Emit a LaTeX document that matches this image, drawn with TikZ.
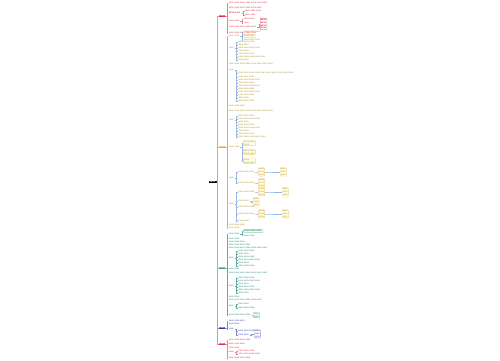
\documentclass[tikz,border=0pt]{standalone}
\usepackage{fontspec}
\setmainfont{Liberation Sans}
\usetikzlibrary{calc}
\definecolor{cred}{RGB}{222,45,70}
\definecolor{corg}{RGB}{236,170,60}
\definecolor{colive}{RGB}{170,145,30}
\definecolor{cblue}{RGB}{120,165,225}
\definecolor{cteal}{RGB}{30,135,120}
\definecolor{cgreen}{RGB}{60,170,110}
\definecolor{cnavy}{RGB}{50,60,170}
\newcommand\tf{\fontsize{2.45}{2.8}\selectfont}
\newcommand\ww{xxxx\ }
\newcommand\kid[5][]{%
  \coordinate (#2x) at ($(#3.east)+(3,0)$);
  \coordinate (#2y) at (0,-#4);
  \node[kid,#1] (#2) at (#2x |- #2y) {#5};
  \draw[con] (#3.east) -- ++(1.5,0) |- (#2.west);}
\newcommand\kidx[6][]{%
  \node[kid,#1] (#2) at (#4,-#5) {#6};
  \draw[con] (#3.east) -- ++(1.5,0) |- (#2.west);}
\tikzset{
  kid/.style={anchor=west, inner sep=0.25pt, font=\tf, align=left},
  kbx/.style={draw, line width=0.2pt, inner sep=0.6pt, rounded corners=0.3pt, fill=white},
  con/.style={line width=0.25pt},
  lone/.style={anchor=west, inner sep=0.5pt, font=\tf\bfseries, text=white, minimum height=2.8pt},
  rootbox/.style={fill=black, text=white, inner sep=0.4pt, font=\tf\bfseries, minimum width=8pt, minimum height=2.6pt},
  spine/.style={line width=0.45pt},
}
\begin{document}
\begin{tikzpicture}[x=1pt,y=1pt]
\useasboundingbox (0,0) rectangle (500,-360);
\fill[white] (0,0) rectangle (500,-360);
% root and first level
\node[rootbox] (R) at (212.5,-182) {\ww};
\node[lone,fill=cred] (A) at (218.5,-16) {\ww};
\node[lone,fill=corg] (B) at (218.5,-147) {\ww};
\node[lone,fill=cgreen] (C) at (218.5,-268) {\ww};
\node[lone,fill=cnavy] (D) at (218.5,-328) {\ww};
\node[lone,fill=cred] (E) at (218.5,-344) {\ww};
\draw[spine,corg!80] (R.east) -- ++(1,0) |- (B.west);
\draw[spine,cred!50] (R.east) -- ++(1,0) |- (A.west);
\draw[spine,cgreen!70] (R.east) -- ++(1,0) |- (C.west);
\draw[spine,cnavy!60] (R.east) -- ++(1,0) |- (D.west);
\draw[spine,cred!55] (R.east) -- ++(1,0) |- (E.west);

% ---------------- branch A (red)
\begin{scope}[kid/.append style={text=cred}, con/.append style={draw=cred!60}, kbx/.append style={draw=cred}]
\kid{a1}{A}{3}{\ww\ww\ww\ww\ww\ww\ww}
\kid{a2}{A}{8}{\ww\ww\ww\ww\ww\ww}
\kid[font=\tf\bfseries]{a3}{A}{13}{\ww\ww}
\kid{a31}{a3}{11}{\ww\ww\ww}
\kid{a32}{a3}{15}{\ww\ww}
\kid{a4}{A}{21}{\ww\ww}
\kid{a41}{a4}{19}{\ww\ww}
\kid{a42}{a4}{23}{\ww}
\kid{a5}{A}{27}{\ww\ww\ww\ww\ww}
\kid[kbx,font=\tf\bfseries]{a51}{a5}{24}{\ww\\\ww\\\ww\\\ww}
\kid{a6}{A}{33}{\ww\ww\ww\ww\ww}
\end{scope}

% ---------------- branch B (orange / olive)
\begin{scope}[kid/.append style={text=colive}, con/.append style={draw=cblue!80}, kbx/.append style={draw=corg,fill=yellow!10}]
\kid{b1}{B}{36}{\ww\ww}
\kid{b11}{b1}{32}{\ww\ww\ww}
\kid[kbx]{b12}{b1}{36}{\ww\ww}
\kid{b13}{b1}{40}{\ww\ww\ww}
\kid{b2}{B}{48}{\ww}
\kid{b21}{b2}{42}{\ww\ww\ww}
\kid{b22}{b2}{45}{\ww\ww}
\kid{b23}{b2}{48}{\ww\ww\ww\ww}
\kid{b24}{b2}{51}{\ww\ww}
\kid{b25}{b2}{54}{\ww\ww\ww}
\kid{b26}{b2}{57}{\ww\ww\ww\ww\ww}
\kid{b27}{b2}{60}{\ww\ww}
\kid{b3}{B}{64}{\ww\ww\ww\ww\ww\ww\ww\ww}
\kid{b4}{B}{70}{\ww}
\kid{b41}{b4}{73}{\ww\ww\ww\ww\ww\ww\ww\ww\ww\ww}
\kid{b42}{b4}{77}{\ww\ww\ww}
\kid{b43}{b4}{80}{\ww\ww\ww\ww}
\kid{b44}{b4}{83}{\ww\ww\ww}
\kid{b45}{b4}{86}{\ww\ww\ww\ww}
\kid{b46}{b4}{89}{\ww\ww\ww}
\kid{b47}{b4}{92}{\ww\ww\ww\ww}
\kid{b48}{b4}{95}{\ww\ww\ww}
\kid{b49}{b4}{98}{\ww\ww}
\kid{b410}{b4}{101}{\ww\ww\ww}
\kid{b5}{B}{106}{\ww\ww\ww}
\kid{b6}{B}{111}{\ww\ww\ww\ww\ww\ww\ww\ww}
\kid{b7}{B}{120}{\ww}
\kid{b71}{b7}{116}{\ww\ww\ww}
\kid{b72}{b7}{119}{\ww\ww\ww\ww}
\kid{b73}{b7}{122}{\ww\ww}
\kid{b74}{b7}{125}{\ww\ww\ww}
\kid{b75}{b7}{128}{\ww\ww\ww\ww}
\kid{b76}{b7}{131}{\ww\ww}
\kid{b77}{b7}{134}{\ww\ww\ww}
\kid{b78}{b7}{137}{\ww\ww\ww\ww\ww}
\kid{b8}{B}{147}{\ww\ww}
\kid[kbx]{b81}{b8}{143}{\ww\ww\\\ww}
\kid[kbx]{b82}{b8}{152}{\ww\ww\\\ww\ww}
\kid[kbx]{b83}{b8}{161}{\ww\\\ww\ww}
\kid{b9}{B}{178}{\ww}
\kid{b91}{b9}{172}{\ww\ww\ww}
\kid[kbx]{b911}{b91}{172}{\ww\\\ww\\\ww}
\kidx[kbx]{b912}{b911}{280}{172}{\ww\\\ww\\\ww}
\kid{b92}{b9}{183}{\ww\ww\ww}
\kid[kbx]{b921}{b92}{183}{\ww\\\ww\\\ww}
\kid{b10}{B}{204}{\ww}
\kid{b101}{b10}{192}{\ww\ww\ww}
\kid[kbx]{b1011}{b101}{192}{\ww\\\ww\\\ww}
\kidx[kbx]{b1012}{b1011}{282}{192}{\ww\\\ww\\\ww}
\kid{b102}{b10}{201}{\ww\ww}
\kid[kbx]{b1021}{b102}{202}{\ww\\\ww\\\ww}
\kid{b103}{b10}{207}{\ww\ww\ww}
\kid{b104}{b10}{214}{\ww\ww\ww}
\kid[kbx]{b1041}{b104}{214}{\ww\\\ww\\\ww}
\kidx[kbx]{b1042}{b1041}{282}{214}{\ww\\\ww\\\ww}
\kid{b105}{b10}{221}{\ww\ww}
\kid{b11}{B}{224.5}{\ww\ww\ww}
\kid{b12}{B}{228}{\ww\ww}
\end{scope}

% ---------------- branch C (green / teal)
\begin{scope}[kid/.append style={text=cteal}, con/.append style={draw=cteal!70}, kbx/.append style={draw=cgreen,fill=green!6}]
\kid{c1}{C}{234}{\ww\ww}
\kid[kbx,font=\tf\bfseries]{c11}{c1}{231}{\ww\ww\ww}
\kid{c12}{c1}{235.5}{\ww\ww}
\kid{c2}{C}{238.5}{\ww\ww}
\kid{c3}{C}{241.5}{\ww\ww\ww}
\kid{c4}{C}{244.5}{\ww\ww\ww\ww}
\kid{c5}{C}{247.5}{\ww\ww\ww\ww\ww\ww\ww}
\kid{c6}{C}{258}{\ww}
\kid{c61}{c6}{251}{\ww\ww\ww}
\kid{c62}{c6}{254}{\ww\ww}
\kid{c63}{c6}{257}{\ww\ww\ww}
\kid{c64}{c6}{260}{\ww\ww\ww\ww}
\kid{c65}{c6}{263}{\ww\ww}
\kid{c66}{c6}{266}{\ww\ww\ww}
\kid{c7}{C}{269}{\ww\ww}
\kid{c8}{C}{273}{\ww\ww\ww\ww\ww\ww\ww}
\kid{c9}{C}{286}{\ww}
\kid{c91}{c9}{278}{\ww\ww\ww}
\kid{c92}{c9}{281}{\ww\ww\ww\ww}
\kid{c93}{c9}{284}{\ww\ww}
\kid{c94}{c9}{287}{\ww\ww\ww}
\kid{c95}{c9}{290}{\ww\ww\ww\ww}
\kid{c96}{c9}{293}{\ww\ww}
\kid{c10}{C}{297}{\ww\ww}
\kid{c20}{C}{300}{\ww\ww\ww\ww\ww\ww}
\kid{c21}{C}{306}{\ww}
\kid{c211}{c21}{304}{\ww\ww}
\kid{c212}{c21}{308}{\ww\ww\ww}
\kid{c22}{C}{315}{\ww\ww\ww\ww}
\kidx[kbx]{c221}{c22}{253}{315}{\ww\\\ww}
\end{scope}

% ---------------- branch D (navy)
\begin{scope}[kid/.append style={text=cnavy}, con/.append style={draw=cnavy!60}, kbx/.append style={draw=cnavy}]
\kid{d1}{D}{321}{\ww\ww\ww}
\kid{d2}{D}{324}{\ww\ww}
\kid{d3}{D}{329}{\ww}
\kid{d31}{d3}{331}{\ww\ww\ww}
\kid{d32}{d3}{335}{\ww\ww}
\kidx[kbx]{d321}{d32}{254}{334}{\ww\\\ww\\\ww}
\end{scope}

% ---------------- branch E (red)
\begin{scope}[kid/.append style={text=cred}, con/.append style={draw=cred!60}]
\kid{e1}{E}{340}{\ww\ww\ww\ww}
\kid{e2}{E}{344}{\ww\ww\ww}
\kid{e3}{E}{348}{\ww\ww}
\kid{e4}{E}{352}{\ww}
\kid{e41}{e4}{351}{\ww\ww\ww}
\kid{e42}{e4}{354}{\ww\ww\ww\ww}
\kid{e5}{E}{358}{\ww\ww\ww\ww}
\end{scope}
\end{tikzpicture}
\end{document}
